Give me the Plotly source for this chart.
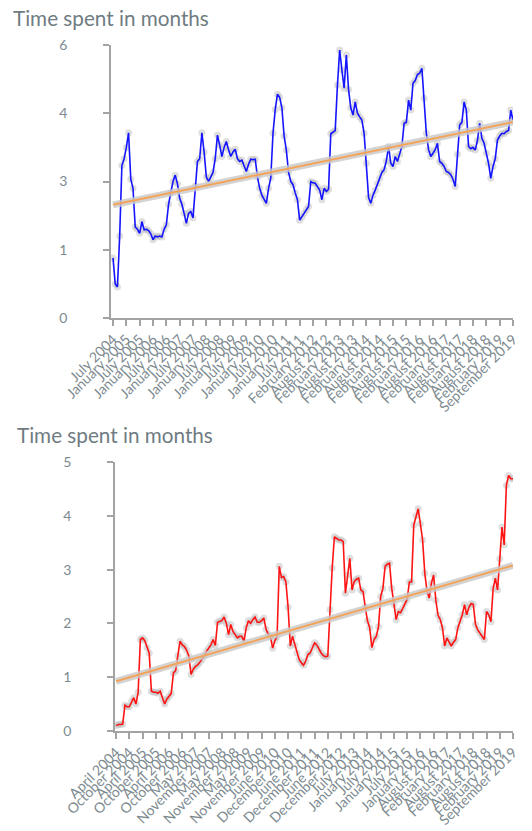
import numpy as np
import plotly.graph_objects as go

W, H = 532, 831
FW, FH = W, H

chart_title = "Time spent in months"

top_tick_labels = [
    "July 2004", "January 2005", "July 2005", "January 2006", "July 2006",
    "January 2007", "July 2007", "January 2008", "July 2008", "January 2009",
    "July 2009", "January 2010", "July 2010", "January 2011", "July 2011",
    "February 2012", "August 2012", "February 2013", "August 2013",
    "February 2014", "August 2014", "February 2015", "August 2015",
    "February 2016", "August 2016", "February 2017", "August 2017",
    "February 2018", "August 2018", "February 2019", "September 2019",
]

bottom_tick_labels = [
    "April 2004", "October 2004", "April 2005", "October 2005", "April 2006",
    "October 2006", "May 2007", "November 2007", "May 2008", "November 2008",
    "May 2009", "November 2009", "June 2010", "December 2010", "June 2011",
    "December 2011", "June 2012", "December 2012", "July 2013", "January 2014",
    "July 2014", "January 2015", "July 2015", "January 2016", "August 2016",
    "February 2017", "August 2017", "February 2018", "August 2018",
    "February 2019", "September 2019",
]

top_values = [
    1.32, 0.75, 0.68, 1.8, 3.35, 3.5, 3.75, 4.07, 3.05, 2.85,
    2.0, 1.95, 1.86, 2.12, 1.94, 1.95, 1.92, 1.85, 1.72, 1.8,
    1.78, 1.8, 1.78, 1.95, 2.05, 2.5, 2.75, 3.0, 3.14, 2.95,
    2.63, 2.5, 2.3, 2.08, 2.3, 2.34, 2.2, 2.9, 3.44, 3.5,
    4.07, 3.65, 3.1, 3.0, 3.1, 3.2, 3.5, 4.02, 3.8, 3.55,
    3.75, 3.88, 3.7, 3.55, 3.65, 3.71, 3.5, 3.44, 3.47, 3.35,
    3.22, 3.38, 3.49, 3.48, 3.49, 3.1, 2.85, 2.7, 2.62, 2.52,
    2.85, 3.08, 4.06, 4.58, 4.92, 4.85, 4.62, 4.0, 3.69, 3.2,
    3.0, 2.93, 2.75, 2.6, 2.15, 2.22, 2.3, 2.38, 2.45, 3.0,
    2.97, 2.96, 2.88, 2.81, 2.6, 2.85, 2.78, 2.83, 4.05, 4.08,
    4.12, 5.12, 5.89, 5.45, 5.05, 5.78, 5.02, 4.62, 4.46, 4.75,
    4.5, 4.42, 4.35, 4.06, 3.4, 2.65, 2.52, 2.7, 2.81, 2.95,
    3.07, 3.2, 3.26, 3.45, 3.77, 3.4, 3.33, 3.55, 3.44, 3.6,
    3.77, 4.28, 4.3, 4.79, 4.57, 5.16, 5.22, 5.35, 5.38, 5.49,
    4.83, 4.06, 3.7, 3.55, 3.62, 3.7, 3.84, 3.44, 3.4, 3.33,
    3.22, 3.2, 3.15, 3.05, 2.89, 3.6, 4.24, 4.3, 4.75, 4.57,
    3.77, 3.72, 3.75, 3.69, 3.9, 4.28, 3.95, 3.84, 3.62, 3.4,
    3.07, 3.33, 3.5, 3.91, 4.0, 4.06, 4.05, 4.1, 4.12, 4.57,
    4.35,
]

bottom_values = [
    0.1, 0.12, 0.12, 0.13, 0.48, 0.45, 0.45, 0.55, 0.62, 0.5,
    0.72, 1.7, 1.73, 1.68, 1.55, 1.45, 0.74, 0.72, 0.72, 0.7,
    0.74, 0.6, 0.5, 0.59, 0.64, 0.7, 1.08, 1.12, 1.4, 1.67,
    1.6, 1.57, 1.5, 1.39, 1.05, 1.15, 1.2, 1.23, 1.28, 1.33,
    1.4, 1.48, 1.54, 1.6, 1.7, 1.59, 2.02, 2.04, 2.05, 2.12,
    2.0, 1.79, 1.98, 1.85, 1.79, 1.73, 1.76, 1.76, 1.67, 1.92,
    2.05, 2.0, 2.07, 2.12, 2.02, 2.02, 2.05, 2.1, 1.89, 1.8,
    1.75, 1.54, 1.68, 1.75, 3.06, 2.85, 2.87, 2.77, 2.3, 1.58,
    1.76, 1.6, 1.45, 1.33, 1.27, 1.22, 1.3, 1.42, 1.45, 1.55,
    1.64, 1.6, 1.52, 1.45, 1.4, 1.38, 1.39, 2.26, 3.03, 3.61,
    3.58, 3.55, 3.55, 3.52, 2.56, 2.9, 3.21, 2.62, 2.78, 2.82,
    2.84, 2.62, 2.59, 2.3, 2.05, 1.92, 1.55, 1.7, 1.76, 1.94,
    2.5, 2.65, 3.06, 3.1, 3.12, 2.65, 2.35, 2.07, 2.22, 2.2,
    2.28, 2.38, 2.45, 2.77, 2.77, 3.83, 4.0, 4.13, 3.85, 3.55,
    2.93, 2.6, 2.47, 2.75, 2.9, 2.43, 2.15, 2.07, 1.92, 1.58,
    1.73, 1.65, 1.58, 1.65, 1.7, 1.92, 2.05, 2.16, 2.35, 2.16,
    2.3, 2.37, 2.35, 1.98, 1.88, 1.82, 1.76, 1.7, 2.22, 2.16,
    2.03, 2.65, 2.84, 2.62, 3.2, 3.79, 3.46, 4.57, 4.75, 4.69,
    4.69,
]

top_y_ticks = [0, 1.5, 3, 4.5, 6]
top_y_ticktext = ["0", "1", "3", "4", "6"]
bottom_y_ticks = [0, 1, 2, 3, 4, 5]
tick_step = 6

FONT = "Lato"
TICK_COLOR = "#7d8a90"
TITLE_COLOR = "#6f7c82"
AXIS_COLOR = "#a3a3a3"


def px_x(p):
    return p / FW


def px_y(p):
    return 1 - p / FH


fig = go.Figure()


def add_panel(values, line_color, xa, ya):
    n = len(values)
    x = list(range(n))
    slope, intercept = np.polyfit(x, values, 1)
    trend = [slope * xi + intercept for xi in x]
    fig.add_trace(go.Scatter(
        x=x, y=values, mode="markers", xaxis=xa, yaxis=ya,
        marker=dict(size=7, color="rgba(185,185,185,0.45)"),
        hoverinfo="skip", showlegend=False))
    fig.add_trace(go.Scatter(
        x=x, y=values, mode="lines", xaxis=xa, yaxis=ya,
        line=dict(color=line_color, width=1.6), showlegend=False))
    fig.add_trace(go.Scatter(
        x=[x[0], x[-1]], y=[trend[0], trend[-1]], mode="lines",
        xaxis=xa, yaxis=ya,
        line=dict(color="rgba(200,200,200,0.8)", width=7),
        hoverinfo="skip", showlegend=False))
    fig.add_trace(go.Scatter(
        x=[x[0], x[-1]], y=[trend[0], trend[-1]], mode="lines",
        xaxis=xa, yaxis=ya,
        line=dict(color="#f4a45a", width=2), showlegend=False))
    return n


n_top = add_panel(top_values, "#1414ff", "x", "y")
n_bot = add_panel(bottom_values, "#ff1414", "x2", "y2")

top_tickvals = list(range(0, n_top, tick_step))[:len(top_tick_labels)]
bot_tickvals = list(range(0, n_bot, tick_step))[:len(bottom_tick_labels)]

common_x = dict(
    showgrid=False, zeroline=False, showline=True, linecolor=AXIS_COLOR,
    linewidth=1.5, ticks="outside", ticklen=6, tickcolor=AXIS_COLOR,
    tickwidth=1.5, tickangle=-45, tickmode="array", automargin=False,
    tickfont=dict(family=FONT, size=14, color=TICK_COLOR),
)
common_y = dict(
    showgrid=False, zeroline=False, showline=True, linecolor=AXIS_COLOR,
    linewidth=1.5, ticks="outside", ticklen=6, tickcolor=AXIS_COLOR,
    tickwidth=1.5, tickmode="array", ticklabelstandoff=33, automargin=False,
    tickfont=dict(family=FONT, size=14, color=TICK_COLOR),
)

fig.update_layout(
    width=FW, height=FH,
    margin=dict(l=0, r=0, t=0, b=0, autoexpand=False),
    paper_bgcolor="white", plot_bgcolor="white",
    showlegend=False,
    xaxis=dict(common_x, domain=[px_x(111), px_x(513)], range=[-0.9, n_top - 1],
               tickvals=top_tickvals, ticktext=top_tick_labels, anchor="y"),
    yaxis=dict(common_y, domain=[px_y(318), px_y(45)], range=[0, 6],
               tickvals=top_y_ticks, ticktext=top_y_ticktext, anchor="x"),
    xaxis2=dict(common_x, domain=[px_x(115), px_x(513)], range=[-0.5, n_bot - 1],
                tickvals=bot_tickvals, ticktext=bottom_tick_labels, anchor="y2"),
    yaxis2=dict(common_y, domain=[px_y(731), px_y(462)], range=[0, 5],
                tickvals=bottom_y_ticks, ticktext=[str(v) for v in bottom_y_ticks],
                anchor="x2"),
    annotations=[
        dict(text=chart_title, xref="paper", yref="paper", x=px_x(11), y=px_y(18),
             xanchor="left", yanchor="middle", showarrow=False,
             font=dict(family=FONT, size=20.7, color=TITLE_COLOR)),
        dict(text=chart_title, xref="paper", yref="paper", x=px_x(15), y=px_y(435),
             xanchor="left", yanchor="middle", showarrow=False,
             font=dict(family=FONT, size=20.7, color=TITLE_COLOR)),
    ],
)

fig.write_html(
    "out.html",
    config={"displayModeBar": False},
    post_script="document.body.style.margin='0';document.body.style.overflow='hidden';",
)
